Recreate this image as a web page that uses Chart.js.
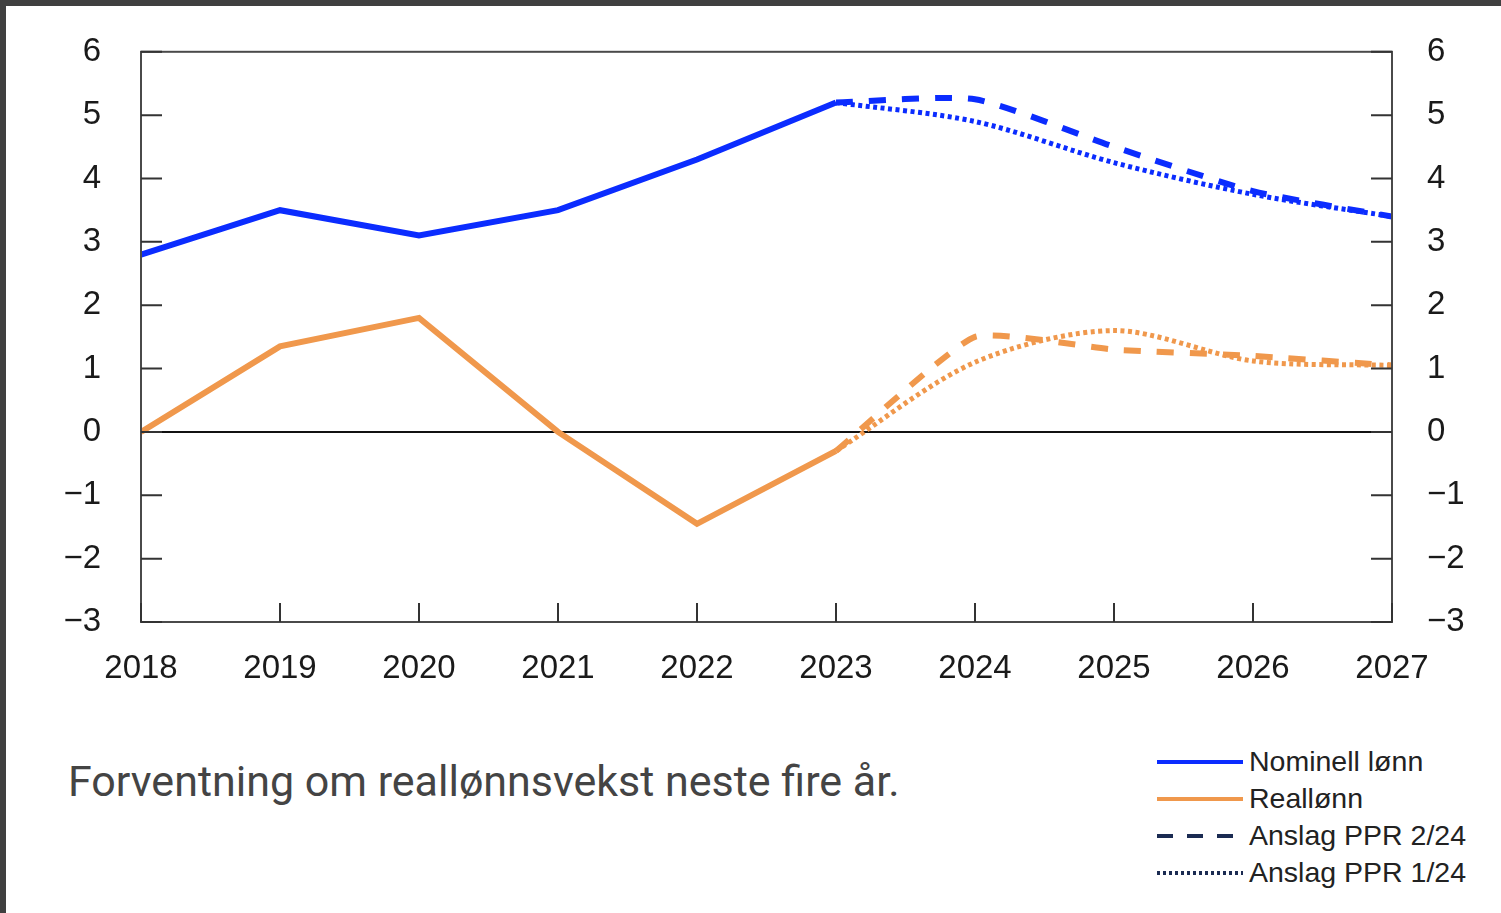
<!DOCTYPE html>
<html>
<head>
<meta charset="utf-8">
<script src="https://cdn.jsdelivr.net/npm/chart.js@4"></script>
<style>
  html, body { margin: 0; padding: 0; background: #fff; }
  body { width: 1501px; height: 913px; position: relative; overflow: hidden; }
  #frameTop { position: absolute; left: 0; top: 0; width: 1501px; height: 6px; background: #404040; }
  #frameLeft { position: absolute; left: 0; top: 0; width: 6px; height: 913px; background: #404040; }
  #wrap { position: absolute; left: 0; top: 0; width: 1501px; height: 700px; }
  #caption { position: absolute; left: 68px; top: 756px; font-family: Roboto, sans-serif; font-size: 43px; color: #444; white-space: nowrap; }
  .leg { position: absolute; left: 1157px; height: 30px; font-family: "Liberation Sans", Arial, sans-serif; font-size: 28.5px; color: #222; white-space: nowrap; }
  .leg svg { position: absolute; left: 0; top: 0; }
  .leg span { position: absolute; left: 92px; top: -2px; }
</style>
</head>
<body>
<div id="wrap"><canvas id="chart"></canvas></div>
<div id="frameTop"></div>
<div id="frameLeft"></div>
<div id="caption">Forventning om reallønnsvekst neste fire år.</div>
<div id="legend"></div>
<script>
const historyYears = [2018, 2019, 2020, 2021, 2022, 2023];
const forecastYears = [2023, 2024, 2025, 2026, 2027];
const nominalWage = [2.8, 3.5, 3.1, 3.5, 4.3, 5.2];
const realWage = [0, 1.35, 1.8, 0, -1.45, -0.3];
const nominalPPR224 = [5.2, 5.25, 4.5, 3.8, 3.4];
const nominalPPR124 = [5.2, 4.9, 4.25, 3.75, 3.4];
const realPPR224 = [-0.3, 1.5, 1.3, 1.2, 1.05];
const realPPR124 = [-0.3, 1.1, 1.6, 1.12, 1.05];
const yTicks = [-3, -2, -1, 0, 1, 2, 3, 4, 5, 6];

const blue = '#0b2cff';
const orange = '#f0984c';
const navy = '#1b2b52';

const pts = (xs, ys) => xs.map((x, i) => ({ x: x, y: ys[i] }));

const legendItems = [
  { label: 'Nominell lønn', color: blue, dash: null },
  { label: 'Reallønn', color: orange, dash: null },
  { label: 'Anslag PPR 2/24', color: navy, dash: '16 14' },
  { label: 'Anslag PPR 1/24', color: navy, dash: '3 3' }
];
const legendTop = [747, 784, 821, 858];
const legendNode = document.getElementById('legend');
legendItems.forEach((item, i) => {
  const d = document.createElement('div');
  d.className = 'leg';
  d.style.top = legendTop[i] + 'px';
  d.innerHTML = '<svg width="88" height="30"><line x1="0" y1="15" x2="86" y2="15" stroke="' + item.color +
    '" stroke-width="4"' + (item.dash ? ' stroke-dasharray="' + item.dash + '"' : '') + '/></svg><span>' + item.label + '</span>';
  legendNode.appendChild(d);
});

const frame = {
  id: 'frame',
  beforeDatasetsDraw(chart) {
    const ctx = chart.ctx;
    const a = chart.chartArea;
    const y = chart.scales.y;
    ctx.save();
    ctx.strokeStyle = '#111';
    ctx.lineWidth = 2;
    ctx.beginPath();
    ctx.moveTo(a.left, y.getPixelForValue(0));
    ctx.lineTo(a.right, y.getPixelForValue(0));
    ctx.stroke();
    ctx.restore();
  },
  afterDatasetsDraw(chart) {
    const ctx = chart.ctx;
    const a = chart.chartArea;
    const x = chart.scales.x;
    const y = chart.scales.y;
    ctx.save();
    ctx.strokeStyle = '#4a4a4a';
    ctx.lineWidth = 2;
    ctx.strokeRect(a.left, a.top, a.right - a.left, a.bottom - a.top);
    ctx.strokeStyle = '#333';
    ctx.beginPath();
    yTicks.forEach(v => {
      const py = y.getPixelForValue(v);
      ctx.moveTo(a.left, py); ctx.lineTo(a.left + 21, py);
      ctx.moveTo(a.right, py); ctx.lineTo(a.right - 21, py);
    });
    historyYears.concat(forecastYears.slice(1)).forEach(v => {
      const px = x.getPixelForValue(v);
      ctx.moveTo(px, a.bottom); ctx.lineTo(px, a.bottom - 19);
    });
    ctx.stroke();
    ctx.restore();
  }
};

const tickFont = { family: '"Liberation Sans", Arial, sans-serif', size: 33 };
const tickColor = '#1a1a1a';
const minus = v => v < 0 ? '\u2212' + Math.abs(v) : String(v);

new Chart(document.getElementById('chart'), {
  type: 'line',
  data: {
    datasets: [
      { label: 'Nominell lønn', data: pts(historyYears, nominalWage), borderColor: blue, borderWidth: 6, tension: 0 },
      { label: 'Reallønn', data: pts(historyYears, realWage), borderColor: orange, borderWidth: 6, tension: 0 },
      { label: 'Anslag PPR 2/24 nominell', data: pts(forecastYears, nominalPPR224), borderColor: blue, borderWidth: 6, borderDash: [17, 16], tension: 0.2 },
      { label: 'Anslag PPR 1/24 nominell', data: pts(forecastYears, nominalPPR124), borderColor: blue, borderWidth: 5, borderDash: [4, 3.5], tension: 0.3 },
      { label: 'Anslag PPR 2/24 real', data: pts(forecastYears, realPPR224), borderColor: orange, borderWidth: 6, borderDash: [17, 16], tension: 0.15 },
      { label: 'Anslag PPR 1/24 real', data: pts(forecastYears, realPPR124), borderColor: orange, borderWidth: 5, borderDash: [4, 3.5], tension: 0.3 }
    ]
  },
  options: {
    responsive: true,
    maintainAspectRatio: false,
    animation: false,
    layout: { padding: { top: 40, right: 0, left: 0, bottom: 0 } },
    elements: { point: { radius: 0 }, line: { borderCapStyle: 'butt', fill: false } },
    plugins: { legend: { display: false }, tooltip: { enabled: false } },
    scales: {
      x: {
        type: 'linear', min: 2018, max: 2027,
        grid: { display: false }, border: { display: false },
        ticks: { stepSize: 1, padding: 19, font: tickFont, color: tickColor, maxRotation: 0, callback: v => String(v) },
        afterFit: s => { s.height = 78; }
      },
      y: {
        position: 'left', min: -3, max: 6,
        grid: { display: false }, border: { display: false },
        ticks: { stepSize: 1, padding: 32, font: tickFont, color: tickColor, callback: minus },
        afterFit: s => { s.width = 141; }
      },
      y2: {
        position: 'right', min: -3, max: 6,
        grid: { display: false }, border: { display: false },
        ticks: { stepSize: 1, padding: 27, font: tickFont, color: tickColor, callback: minus },
        afterFit: s => { s.width = 109; }
      }
    }
  },
  plugins: [frame]
});
</script>
</body>
</html>
